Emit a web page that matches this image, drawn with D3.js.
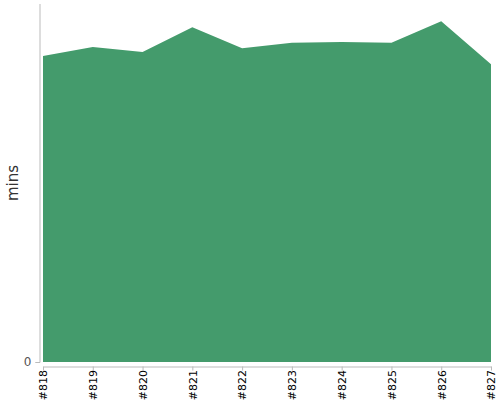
<!DOCTYPE html>
<html><head><meta charset="utf-8">
<script src="https://cdn.jsdelivr.net/npm/d3@7"></script>
<style>body{margin:0;background:#fff}svg{display:block}svg text{font-family:"DejaVu Sans",sans-serif}</style>
</head><body><svg id="c" width="500" height="400"></svg>
<script>
const builds = ["#818","#819","#820","#821","#822","#823","#824","#825","#826","#827"];
const mins = [51.3, 52.8, 51.95, 56.1, 52.6, 53.5, 53.65, 53.5, 57.1, 49.9];
const yTicks = [0];
const yMax = 60;

const svg = d3.select("#c");
const x = d3.scalePoint().domain(builds).range([43, 491]);
const y = d3.scaleLinear().domain([0, yMax]).range([362, 4]);

const data = builds.map((b, i) => ({b, v: mins[i]}));
svg.append("path").datum(data)
  .attr("fill", "#449b6c")
  .attr("d", d3.area().x(d => x(d.b)).y0(y(0)).y1(d => y(d.v)).curve(d3.curveLinear));

// y axis
const ya = svg.append("g").attr("transform", "translate(39.5,0)")
  .call(d3.axisLeft(y).tickValues(yTicks).tickSize(4).tickPadding(4).tickFormat(d3.format("d")))
  .attr("font-family", "DejaVu Sans");
ya.select(".domain").attr("stroke", "#bbb").attr("d", "M-4,362.5H0.5V4");
ya.selectAll(".tick line").attr("stroke", "#bbb");
ya.selectAll(".tick text").attr("fill", "#555").attr("font-size", 12);

// x axis
const xa = svg.append("g").attr("transform", "translate(0,366.5)")
  .call(d3.axisBottom(x).tickSize(4).tickSizeOuter(0))
  .attr("font-family", "DejaVu Sans");
xa.select(".domain").attr("stroke", "#bbb");
xa.selectAll(".tick line").attr("stroke", "#bbb");
xa.selectAll(".tick text").attr("fill", "#000").attr("font-size", 11)
  .attr("transform", "rotate(-90)").attr("text-anchor", "end")
  .attr("x", -3.5).attr("y", 0).attr("dy", "0.35em");

svg.append("text").attr("transform", "translate(18,183) rotate(-90)")
  .attr("text-anchor", "middle").attr("font-size", 15).attr("fill", "#333").text("mins");
</script></body></html>
